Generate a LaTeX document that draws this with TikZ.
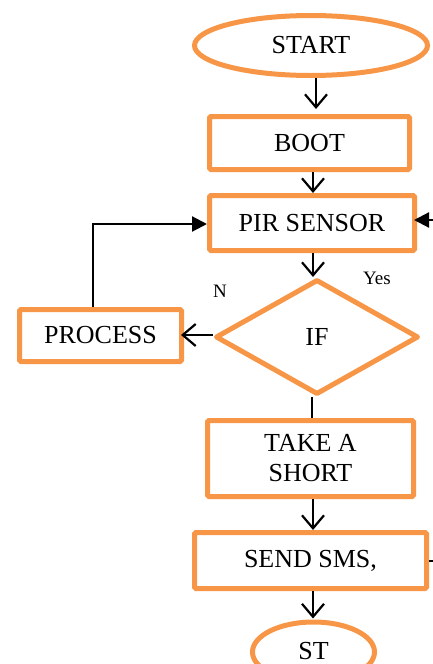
\documentclass[tikz,border=0pt]{standalone}
\usepackage{fontspec}
\setmainfont{Liberation Serif}
\usetikzlibrary{shapes.geometric,arrows.meta}
\definecolor{fcorange}{RGB}{247,150,70}
\tikzset{
  shapeline/.style={draw=fcorange, line width=5pt, inner sep=0pt, font=\fontsize{26}{30}\selectfont},
  boxnode/.style={shapeline, rectangle, rounded corners=1.5pt},
  ovalnode/.style={shapeline, ellipse},
  decnode/.style={shapeline, diamond, line join=round},
  lbl/.style={font=\fontsize{19}{22}\selectfont, inner sep=0pt},
  arr/.style={draw=black, line width=2.2pt, -{Straight Barb[length=13pt,width=22pt]}},
  farr/.style={draw=black, line width=2.2pt, -{Triangle[length=15pt,width=15pt]}},
  plainline/.style={draw=black, line width=2.2pt}
}
\begin{document}
\begin{tikzpicture}[x=1pt,y=-1pt]
\useasboundingbox (0,0) rectangle (433,664);
\node[ovalnode, minimum width=233pt, minimum height=60pt] (start) at (311,45.5) {START};
\node[boxnode, minimum width=200pt, minimum height=53pt] (boot) at (309.5,143) {BOOT};
\node[boxnode, minimum width=205pt, minimum height=55pt] (pir) at (312,223) {PIR SENSOR};
\node[decnode, minimum width=203pt, minimum height=115pt] (if) at (317,337) {IF};
\node[boxnode, minimum width=162pt, minimum height=52pt] (proc) at (100.5,335.5) {PROCESS};
\node[boxnode, minimum width=206pt, minimum height=76pt, align=center] (take) at (310.5,458.5) {TAKE A\\SHORT};
\node[boxnode, minimum width=232pt, minimum height=56pt] (send) at (310.5,560.5) {SEND SMS,};
\node[ovalnode, minimum width=122pt, minimum height=60pt] (stop) at (313.5,652) {};
\node[font=\fontsize{26}{30}\selectfont, inner sep=0pt, anchor=base] (stoptext) at (313.5,659) {ST};
\node[lbl, anchor=base] (nlbl) at (220,297) {N};
\node[lbl, anchor=base] (ylbl) at (377,284) {Yes};
\coordinate (rin) at (433,220);
\coordinate (rout) at (433,561);
\coordinate (pcorner) at (93,224);
% connectors
\draw[arr] ([xshift=5pt]start.south) -- ([xshift=6.5pt,yshift=5pt]boot.north);
\draw[arr] ([xshift=3.5pt]boot.south) -- ([xshift=1pt,yshift=0pt]pir.north);
\draw[arr] ([xshift=1pt]pir.south) -- ([xshift=-4pt,yshift=0pt]if.north);
\draw[arr] (if.west |- 0,335) -- ([xshift=-3pt]proc.east |- 0,335);
\draw[farr] ([xshift=-7.5pt]proc.north) |- (pcorner) -- (pir.west |- pcorner);
\draw[farr] (rin) -- ([xshift=-3pt]pir.east |- rin);
\draw[plainline] ([xshift=-5pt]if.south) -- ([xshift=1.5pt]take.north);
\draw[arr] ([xshift=2.5pt]take.south) -- ([xshift=2.5pt]send.north);
\draw[arr] ([xshift=2.5pt]send.south) -- ([xshift=-0.5pt,yshift=1pt]stop.north);
\draw[plainline] (send.east |- rout) -- (rout);
\end{tikzpicture}
\end{document}
